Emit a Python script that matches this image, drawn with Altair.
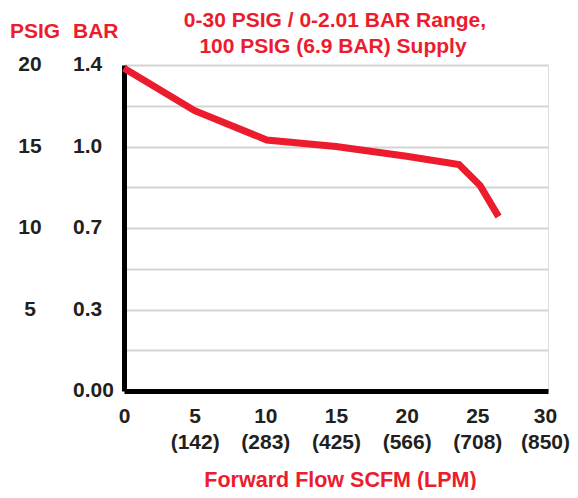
import altair as alt
import pandas as pd

# Data
flow_scfm = [0, 5, 10.1, 15, 20, 23.7, 25.2, 26.5]
pressure_psig = [19.8, 17.2, 15.4, 15.0, 14.4, 13.9, 12.6, 10.7]

x_ticks = [0, 5, 10, 15, 20, 25, 30]
x_lpm = ["", "(142)", "(283)", "(425)", "(566)", "(708)", "(850)"]

psig_ticks = [20, 15, 10, 5]
psig_labels = ["20", "15", "10", "5"]
bar_ticks = [20, 15, 10, 5, 0]
bar_labels = ["1.4", "1.0", "0.7", "0.3", "0.00"]
grid_values = [0, 2.5, 5, 7.5, 10, 12.5, 15, 17.5, 20]

title_lines = ["0-30 PSIG / 0-2.01 BAR Range,", "100 PSIG (6.9 BAR) Supply"]

RED = "#ec1c2e"
DARK = "#231f20"
FONT = "Liberation Sans"

df = pd.DataFrame({"flow": flow_scfm, "psig": pressure_psig})
psig_df = pd.DataFrame({"v": psig_ticks, "label": psig_labels})
bar_df = pd.DataFrame({"v": bar_ticks, "label": bar_labels})

# x-label expression (two lines: SCFM and LPM)
parts = []
for t, l in zip(x_ticks, x_lpm):
    if l:
        parts.append(f"datum.value == {t} ? ['{t}', '{l}']")
    else:
        parts.append(f"datum.value == {t} ? '{t}'")
x_label_expr = " : ".join(parts) + " : ''"

x_scale = alt.Scale(domain=[0, 30], nice=False, zero=True)
y_scale = alt.Scale(domain=[0, 20], nice=False)

line = alt.Chart(df).mark_line(color=RED, strokeWidth=7, strokeJoin="miter").encode(
    x=alt.X("flow:Q", scale=x_scale,
            axis=alt.Axis(values=x_ticks, labelExpr=x_label_expr, grid=False,
                          ticks=False, domainColor="black", domainWidth=5,
                          labelFont=FONT, labelFontWeight="bold", labelFontSize=21,
                          labelColor=DARK, labelPadding=14, labelLineHeight=26,
                          labelBaseline="top", labelOverlap=False, labelFlush=False,
                          labelOffset={"condition": {"test": f"datum.value == {x_ticks[-1]}", "value": -3}, "value": 0},
                          title="Forward Flow SCFM (LPM)", titleFont=FONT,
                          titleFontWeight="bold", titleFontSize=21.5, titleColor=RED,
                          titleX=216, titleY=95, titleBaseline="alphabetic", titleAnchor="middle")),
    y=alt.Y("psig:Q", scale=y_scale,
            axis=alt.Axis(values=grid_values, labels=False, ticks=False, title=None,
                          domainColor="black", domainWidth=5,
                          gridColor="#d4d4d4", gridWidth=2)),
)

def label_text(data, align, x):
    return alt.Chart(data).mark_text(
        font=FONT, fontWeight="bold", fontSize=21, color=DARK, align=align, baseline="middle"
    ).encode(x=alt.value(x), y=alt.Y("v:Q", scale=y_scale), text="label:N")

psig_text = label_text(psig_df, "center", -94)
bar_text = label_text(bar_df, "left", -51)

def fixed_text(txt, x, y, align, size):
    return alt.Chart(pd.DataFrame({"label": [txt]})).mark_text(
        font=FONT, fontWeight="bold", fontSize=size, color=RED, align=align, baseline="middle"
    ).encode(x=alt.value(x), y=alt.value(y), text="label:N")

hdr_psig = fixed_text("PSIG", -89, -33, "center", 21)
hdr_bar = fixed_text("BAR", -51, -33, "left", 21)
title1 = fixed_text(title_lines[0], 211, -44, "center", 21)
title2 = fixed_text(title_lines[1], 209, -18, "center", 21)

chart = alt.layer(line, psig_text, bar_text, hdr_psig, hdr_bar, title1, title2).properties(
    width=424, height=326,
    autosize=alt.AutoSizeParams(type="none"),
    padding={"left": 116, "top": 57, "right": 22, "bottom": 99},
).configure_view(stroke=None).configure(background="white")

chart.save("out.html", embed_options={"renderer": "svg", "actions": False})
